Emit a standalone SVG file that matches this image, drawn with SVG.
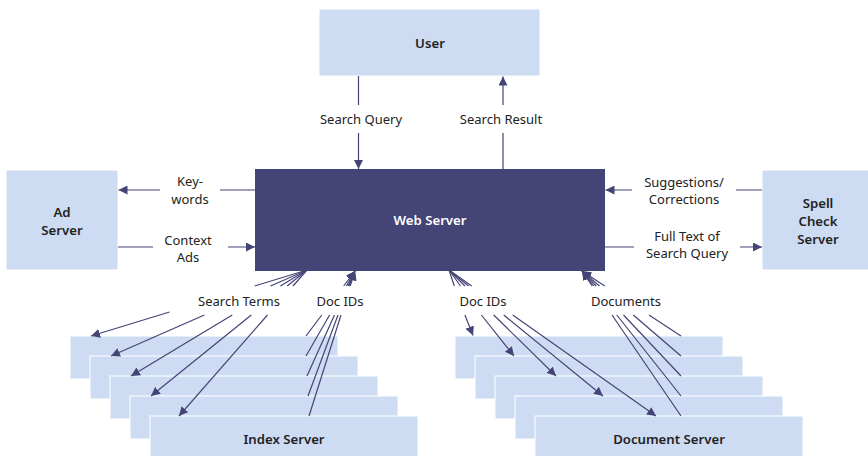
<svg xmlns="http://www.w3.org/2000/svg" width="868" height="456" viewBox="0 0 868 456">
<style>
.box{fill:#cddcf2;stroke:#ffffff;stroke-width:1}
.dark{fill:#444576}
.t{font-family:"Noto Sans","Open Sans",sans-serif;font-size:13px;fill:#222222;text-anchor:middle}
.b{font-family:"Noto Sans","Open Sans",sans-serif;font-size:13.2px;font-weight:600;fill:#222222;text-anchor:middle}
.w{fill:#ffffff}
.c{fill:none;stroke:#444576;stroke-width:1.2}
</style>
<defs>
<marker id="ah" markerUnits="userSpaceOnUse" markerWidth="10" markerHeight="9" refX="9" refY="4.5" orient="auto">
<path d="M0,0 L9,4.5 L0,9 z" fill="#444576"/>
</marker>
</defs>
<rect width="868" height="456" fill="#ffffff"/>

<g id="user"><rect class="box" x="319" y="9" width="221" height="67"/><text class="b" x="430" y="48">User</text></g>
<g id="web-server"><rect class="dark" x="255" y="169" width="350" height="102"/><text class="b w" x="430" y="225">Web Server</text></g>
<g id="ad-server"><rect class="box" x="6" y="170" width="112" height="100"/><text class="b" x="62" y="217">Ad</text><text class="b" x="62" y="235">Server</text></g>
<g id="spell-check-server"><rect class="box" x="762" y="170" width="112" height="100"/><text class="b" x="818" y="208">Spell</text><text class="b" x="818" y="226">Check</text><text class="b" x="818" y="244">Server</text></g>

<g id="index-servers">
<rect class="box" x="70" y="336" width="268" height="43"/>
<rect class="box" x="90" y="356" width="268" height="43"/>
<rect class="box" x="110" y="376" width="268" height="43"/>
<rect class="box" x="130" y="396" width="268" height="43"/>
<rect class="box" x="150" y="416" width="268" height="43"/>
<text class="b" x="284" y="444">Index Server</text>
</g>
<g id="document-servers">
<rect class="box" x="455" y="336" width="268" height="43"/>
<rect class="box" x="475" y="356" width="268" height="43"/>
<rect class="box" x="495" y="376" width="268" height="43"/>
<rect class="box" x="515" y="396" width="268" height="43"/>
<rect class="box" x="535" y="416" width="268" height="43"/>
<text class="b" x="669" y="444">Document Server</text>
</g>

<g id="connectors">
<path class="c" d="M358.5,76 V105 M358.5,133 V169" marker-end="url(#ah)"/>
<path class="c" d="M503,169 V133 M503,105 V76.5" marker-end="url(#ah)"/>
<path class="c" d="M255,190 H220 M160,190 H118.5" marker-end="url(#ah)"/>
<path class="c" d="M118,247 H153 M228,247 H255" marker-end="url(#ah)"/>
<path class="c" d="M762,190 H736 M632,190 H605.5" marker-end="url(#ah)"/>
<path class="c" d="M605,247 H634 M740,247 H762" marker-end="url(#ah)"/>

<path class="c" d="M307,270 L254.6,286 M169.5,312 L91,336" marker-end="url(#ah)"/>
<path class="c" d="M307,270 L270.5,286 M204.4,315 L111,356" marker-end="url(#ah)"/>
<path class="c" d="M307,270 L280.4,286 M232.3,315 L131,376" marker-end="url(#ah)"/>
<path class="c" d="M307,270 L287.2,286 M251.3,315 L151,396" marker-end="url(#ah)"/>
<path class="c" d="M307,270 L293,286 M267.5,315 L179,416" marker-end="url(#ah)"/>

<path class="c" d="M306,336 L321.8,315 M343.7,286 L355,271" marker-end="url(#ah)"/>
<path class="c" d="M306,356 L329.6,315 M346.4,286 L355,271" marker-end="url(#ah)"/>
<path class="c" d="M307,376 L334.5,315 M348,286 L355,271" marker-end="url(#ah)"/>
<path class="c" d="M308,396 L338,315 M349.2,286 L355,271" marker-end="url(#ah)"/>
<path class="c" d="M309,416 L341,315 M350.2,286 L355,271" marker-end="url(#ah)"/>

<path class="c" d="M449,270 L454.3,286 M464.9,315 L473,335.5" marker-end="url(#ah)"/>
<path class="c" d="M449,270 L460.5,286 M481.4,315 L514,356" marker-end="url(#ah)"/>
<path class="c" d="M449,270 L464.9,286 M493.7,315 L556,376" marker-end="url(#ah)"/>
<path class="c" d="M449,270 L468.5,286 M503.7,315 L603,396" marker-end="url(#ah)"/>
<path class="c" d="M449,270 L471.7,286 M512.7,315 L656,416" marker-end="url(#ah)"/>

<path class="c" d="M681,336 L649,315 M604.8,286 L582,271" marker-end="url(#ah)"/>
<path class="c" d="M681,356 L633.3,315 M599.5,286 L582,271" marker-end="url(#ah)"/>
<path class="c" d="M681,376 L623.5,315 M596.1,286 L582,271" marker-end="url(#ah)"/>
<path class="c" d="M681,396 L616.8,315 M593.7,286 L582,271" marker-end="url(#ah)"/>
<path class="c" d="M681,416 L612,315 M592.2,286 L582,271" marker-end="url(#ah)"/>
</g>

<g id="labels">
<text class="t" x="361" y="124">Search Query</text>
<text class="t" x="501" y="124">Search Result</text>
<text class="t" x="190" y="186">Key-</text>
<text class="t" x="190" y="203.5">words</text>
<text class="t" x="188" y="245">Context</text>
<text class="t" x="188" y="262">Ads</text>
<text class="t" x="684" y="186.5">Suggestions/</text>
<text class="t" x="684" y="204">Corrections</text>
<text class="t" x="687" y="241">Full Text of</text>
<text class="t" x="687" y="258">Search Query</text>
<text class="t" x="239" y="306">Search Terms</text>
<text class="t" x="340" y="306">Doc IDs</text>
<text class="t" x="483" y="306">Doc IDs</text>
<text class="t" x="626" y="306">Documents</text>
</g>
</svg>
